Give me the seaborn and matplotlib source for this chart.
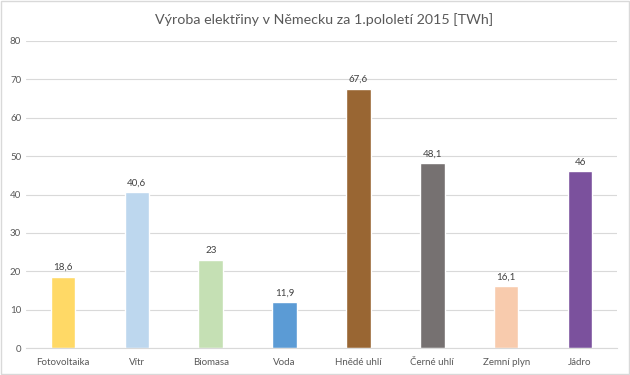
import matplotlib
matplotlib.use('Agg')
import matplotlib.pyplot as plt
import pandas as pd
import seaborn as sns

# Data
categories = ['Fotovoltaika', 'Vítr', 'Biomasa', 'Voda', 'Hnědé uhlí', 'Černé uhlí', 'Zemní plyn', 'Jádro']
values = [18.6, 40.6, 23, 11.9, 67.6, 48.1, 16.1, 46]
labels = ['18,6', '40,6', '23', '11,9', '67,6', '48,1', '16,1', '46']
colors = ['#FFD966', '#BDD7EE', '#C5E0B4', '#5B9BD5', '#996633', '#767171', '#F8CBAD', '#7B519D']

df = pd.DataFrame({'cat': categories, 'value': values})

sns.set_style('white')
plt.rcParams['font.family'] = ['Lato', 'DejaVu Sans']

fig = plt.figure(figsize=(6.3, 3.75), dpi=100)
ax = fig.add_axes([26 / 630, 1 - 348 / 375, 591 / 630, 307 / 375])

sns.barplot(data=df, x='cat', y='value', hue='cat', palette=colors, legend=False,
            width=0.33, ax=ax, saturation=1)

for i, (v, t) in enumerate(zip(values, labels)):
    ax.text(i, v + 1.2, t, ha='center', va='bottom', fontsize=7, color='#404040')

ax.set_ylim(0, 80)
ax.set_xlim(-0.5, len(categories) - 0.5)
ax.set_yticks(range(0, 81, 10))
ax.yaxis.grid(True, color='#D9D9D9', linewidth=0.8)
ax.set_axisbelow(True)
for s in ['top', 'right', 'left']:
    ax.spines[s].set_visible(False)
ax.spines['bottom'].set_color('#D9D9D9')
ax.tick_params(axis='both', length=0, labelsize=7, colors='#595959')
ax.tick_params(axis='x', pad=7)
ax.set_xlabel('')
ax.set_ylabel('')

fig.text(0.514, 1 - 20 / 375, 'Výroba elektřiny v Německu za 1.pololetí 2015 [TWh]',
         ha='center', va='center', fontsize=10.3, color='#595959')

# light frame around the whole chart
fig.patches.append(plt.Rectangle((0.002, 0.003), 0.996, 0.994, transform=fig.transFigure,
                                 fill=False, edgecolor='#D9D9D9', linewidth=1))

fig.savefig('out.png', dpi=100)
